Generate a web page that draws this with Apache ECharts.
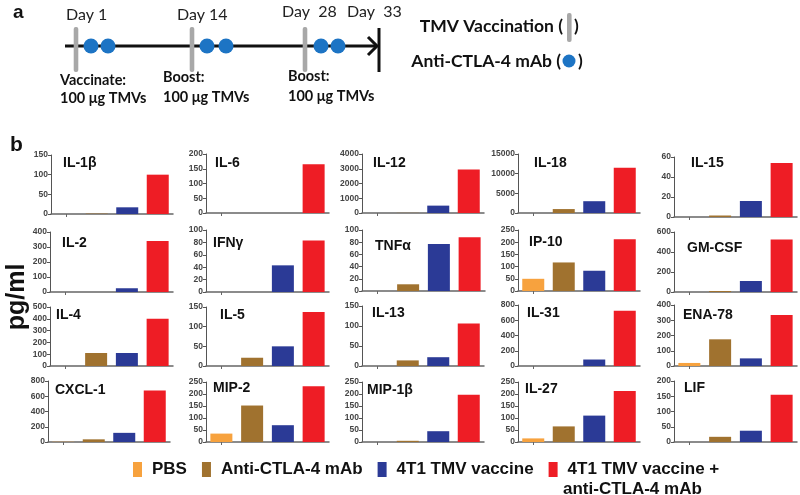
<!DOCTYPE html>
<html><head><meta charset="utf-8">
<script src="https://cdn.jsdelivr.net/npm/echarts@6/dist/echarts.min.js"></script>
<style>html,body{margin:0;padding:0;background:#fff}#c{width:800px;height:495px}</style>
</head><body><div id="c"></div>
<script>
// ---- data ----
const groups = ['PBS', 'Anti-CTLA-4 mAb', '4T1 TMV vaccine', '4T1 TMV vaccine + anti-CTLA-4 mAb'];
const cytokines = ['IL-1β','IL-6','IL-12','IL-18','IL-15','IL-2','IFNγ','TNFα','IP-10','GM-CSF','IL-4','IL-5','IL-13','IL-31','ENA-78','CXCL-1','MIP-2','MIP-1β','IL-27','LIF'];
const pbs       = [0, 0, 0, 0, 0,    0, 0, 0, 50, 0,     0, 0, 0, 0, 20,     3, 35, 0, 15, 0];
const antiCTLA4 = [1, 0, 10, 1000, 1.5,  0, 0, 11, 117, 10,  110, 21, 14, 0, 175,  35, 152, 5, 65, 17];
const vaccine   = [17, 0, 500, 3000, 16, 25, 43, 77, 83, 110, 110, 50, 22, 85, 50,  120, 70, 45, 110, 37];
const combo     = [100, 165, 2950, 11500, 54, 340, 83, 88, 212, 525, 400, 137, 106, 725, 335, 675, 232, 197, 212, 155];
const axisMax   = [150, 200, 4000, 15000, 60, 400, 100, 100, 250, 600, 500, 150, 150, 800, 400, 800, 250, 250, 250, 200];
const axisStep  = [50, 50, 1000, 5000, 20, 100, 20, 20, 50, 200, 100, 50, 50, 200, 100, 200, 50, 50, 50, 50];
const timelineDays = ['Day 1', 'Day 14', 'Day 28', 'Day 33'];

// ---- layout (pixels): [gridLeft, gridWidth, gridTop, gridBottom, titleX, titleY] ----
const panelBox = [
  [51,122,155,214, 63,163],[206,123,154,213, 215,163],[362,122,154,213, 373,163],[518,122,154,213, 534,163],[674,123,157,217, 691,163],
  [50,123,232,292, 62,243],[206,123,230,292, 213,243],[362,123,230,291, 375,246],[518,122,230,291, 529,242],[674,123,232,292, 687,248],
  [50,123,307,366, 56,315],[206,123,307,366, 220,315],[362,122,306,366, 372,313],[518,122,305,366, 527,313],[674,123,305,366, 683,315],
  [48,122,381,442, 55,390],[206,123,382,442, 213,388],[362,122,382,442, 367,390],[518,122,382,442, 525,389],[674,123,381,442, 684,388]
];
const colors = ['#F7A23E', '#A0722F', '#2B3A96', '#EE1D25'];
const SANS = '"Liberation Sans", Arial, sans-serif';
const CAL = 'Lato, "Open Sans", sans-serif';

const chart = echarts.init(document.getElementById('c'), null, {renderer: 'canvas'});
const grid = [], xAxis = [], yAxis = [], series = [], graphic = [];

cytokines.forEach((name, i) => {
  const b = panelBox[i];
  grid.push({left: b[0], top: b[2], width: b[1], height: b[3] - b[2], containLabel: false, outerBoundsMode: 'none'});
  xAxis.push({type: 'category', gridIndex: i, data: groups,
    axisLabel: {show: false},
    axisTick: {show: true, alignWithLabel: true, length: 3, lineStyle: {color: '#666'}},
    axisLine: {lineStyle: {color: '#666', width: 1.5}}});
  yAxis.push({type: 'value', gridIndex: i, min: 0, max: axisMax[i], interval: axisStep[i],
    splitLine: {show: false},
    axisLine: {show: true, lineStyle: {color: '#555', width: 1}},
    axisTick: {show: true, length: 3, lineStyle: {color: '#555'}},
    axisLabel: {fontSize: 8.5, fontWeight: 'bold', color: '#444', margin: 3, fontFamily: SANS,
      formatter: v => String(v)}});
  const vals = [pbs[i], antiCTLA4[i], vaccine[i], combo[i]];
  groups.forEach((g, k) => {
    series.push({type: 'bar', name: g, xAxisIndex: i, yAxisIndex: i, stack: 's' + i, barWidth: 22,
      itemStyle: {color: colors[k]}, silent: true,
      data: groups.map((_, j) => j === k ? vals[k] : '-')});
  });
  graphic.push({type: 'text', x: b[4], y: b[5], silent: true,
    style: {text: name, font: 'bold 14px ' + SANS, fill: '#111', verticalAlign: 'middle'}});
});

// panel labels and y-axis unit
graphic.push({type: 'text', x: 13, y: 13, style: {text: 'a', font: 'bold 19px ' + SANS, fill: '#111', verticalAlign: 'middle'}});
graphic.push({type: 'text', x: 10, y: 145, style: {text: 'b', font: 'bold 21px ' + SANS, fill: '#111', verticalAlign: 'middle'}});
graphic.push({type: 'text', x: 17, y: 297, rotation: Math.PI / 2,
  style: {text: 'pg/ml', font: 'bold 25px ' + SANS, fill: '#111', align: 'center', verticalAlign: 'middle'}});

// timeline (schematic)
graphic.push({type: 'line', shape: {x1: 65, y1: 46, x2: 376, y2: 46}, style: {stroke: '#111', lineWidth: 3}});
graphic.push({type: 'polyline', shape: {points: [[368, 37], [377, 46], [368, 55]]}, style: {stroke: '#111', lineWidth: 3, fill: null}});
graphic.push({type: 'line', shape: {x1: 379, y1: 28, x2: 379, y2: 72}, style: {stroke: '#111', lineWidth: 3}});
[76, 192, 305].forEach(x => graphic.push({type: 'rect', shape: {x: x - 2.3, y: 27, width: 4.6, height: 45, r: 2}, style: {fill: '#A8A8A8'}}));
[91, 108, 207, 226, 321, 338].forEach(x => graphic.push({type: 'circle', shape: {cx: x, cy: 46, r: 7.5}, style: {fill: '#1D74C4'}}));
const dayStyle = {font: '16px ' + CAL, fill: '#222', verticalAlign: 'middle'};
graphic.push({type: 'text', x: 66, y: 15, style: Object.assign({text: timelineDays[0]}, dayStyle)});
graphic.push({type: 'text', x: 177, y: 15, style: Object.assign({text: timelineDays[1]}, dayStyle)});
graphic.push({type: 'text', x: 282, y: 12, style: Object.assign({text: timelineDays[2].replace(' ', '  ')}, dayStyle)});
graphic.push({type: 'text', x: 347, y: 12, style: Object.assign({text: timelineDays[3].replace(' ', '  ')}, dayStyle)});
const noteStyle = {font: 'bold 14.5px ' + CAL, fill: '#111', verticalAlign: 'middle'};
graphic.push({type: 'text', x: 60, y: 80, style: Object.assign({text: 'Vaccinate:'}, noteStyle)});
graphic.push({type: 'text', x: 60, y: 98, style: Object.assign({text: '100 μg TMVs'}, noteStyle)});
graphic.push({type: 'text', x: 163, y: 77, style: Object.assign({text: 'Boost:'}, noteStyle)});
graphic.push({type: 'text', x: 163, y: 97, style: Object.assign({text: '100 μg TMVs'}, noteStyle)});
graphic.push({type: 'text', x: 288, y: 76, style: Object.assign({text: 'Boost:'}, noteStyle)});
graphic.push({type: 'text', x: 288, y: 96, style: Object.assign({text: '100 μg TMVs'}, noteStyle)});
// schematic key
const keyStyle = {font: 'bold 17.5px ' + CAL, fill: '#111', verticalAlign: 'middle'};
graphic.push({type: 'text', x: 563, y: 26, style: Object.assign({text: 'TMV Vaccination (', align: 'right'}, keyStyle)});
graphic.push({type: 'rect', shape: {x: 567, y: 13, width: 4.6, height: 29, r: 2}, style: {fill: '#A8A8A8'}});
graphic.push({type: 'text', x: 574, y: 26, style: Object.assign({text: ')'}, keyStyle)});
graphic.push({type: 'text', x: 561, y: 61, style: Object.assign({text: 'Anti-CTLA-4 mAb (', align: 'right'}, keyStyle)});
graphic.push({type: 'circle', shape: {cx: 569, cy: 61, r: 6.5}, style: {fill: '#1D74C4'}});
graphic.push({type: 'text', x: 578, y: 61, style: Object.assign({text: ')'}, keyStyle)});
// second line of the last legend entry
graphic.push({type: 'text', x: 563, y: 489, style: {text: 'anti-CTLA-4 mAb', font: 'bold 17px ' + SANS, fill: '#111', verticalAlign: 'middle'}});

chart.setOption({
  animation: false,
  grid, xAxis, yAxis, series, graphic,
  legend: {data: groups, left: 133, top: 461, itemWidth: 9, itemHeight: 15, itemGap: 15, icon: 'rect',
    padding: 0, selectedMode: false,
    formatter: n => n === groups[3] ? '4T1 TMV vaccine +' : n,
    textStyle: {fontSize: 17, fontWeight: 'bold', fontFamily: SANS, color: '#111', padding: [0, 0, 0, 5]}}
});
</script></body></html>
